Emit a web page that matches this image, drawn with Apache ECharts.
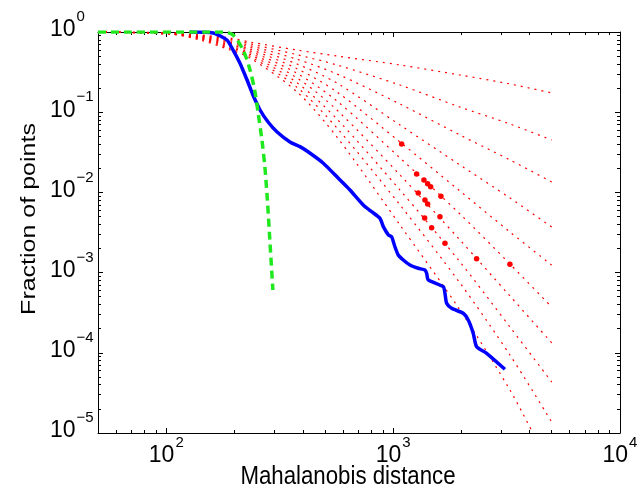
<!DOCTYPE html>
<html><head><meta charset="utf-8">
<script src="https://cdn.jsdelivr.net/npm/echarts@6/dist/echarts.min.js"></script>
<style>html,body{margin:0;padding:0;background:#fff}#c{width:639px;height:494px}</style>
</head><body><div id="c"></div>
<script>
// ---- data ----
const xLabelValues = [100, 1000, 10000];
const yLabelValues = [1e-5, 1e-4, 1e-3, 1e-2, 1e-1, 1];
const xTitle = 'Mahalanobis distance';
const yTitle = 'Fraction of points';

const blueX = [127, 161, 185, 197, 211, 227, 241, 259, 281, 308, 351, 388, 417, 491, 583, 645, 738, 804, 875, 905, 954, 985, 1018, 1053, 1108, 1186, 1290, 1381, 1405, 1428, 1663, 1692, 1721, 1810, 2037, 2143, 2254, 2333, 2583, 3110];
const blueY = [1.0, 0.972, 0.795, 0.596, 0.411, 0.252, 0.164, 0.1065, 0.0755, 0.0566, 0.0425, 0.0372, 0.0328, 0.02326, 0.01428, 0.01071, 0.00697, 0.00575, 0.00475, 0.00374, 0.00294, 0.0028, 0.0021, 0.00166, 0.001437, 0.001244, 0.001132, 0.001077, 0.00098, 0.000809, 0.000667, 0.000552, 0.000414, 0.000359, 0.000311, 0.000256, 0.000175, 0.000119, 0.0000986, 0.0000623];

const greenX = [50, 178, 197, 218, 234, 246, 254, 264, 272, 279, 286, 295];
const greenY = [1, 1, 0.917, 0.596, 0.336, 0.179, 0.0977, 0.045, 0.0207, 0.00804, 0.00255, 0.000607];

const redX = [50, 104, 141, 191, 234, 377, 565, 1072, 1970, 3272, 5000];
const redX10 = [50, 104, 141, 191, 234, 377, 565, 1072, 1970, 3272, 4130];
const red1 = [1, 0.972, 0.918, 0.842, 0.750, 0.596, 0.502, 0.388, 0.291, 0.225, 0.174];
const red2 = [1, 0.972, 0.905, 0.811, 0.713, 0.521, 0.388, 0.218, 0.116, 0.0713, 0.0450];
const red3 = [1, 0.972, 0.892, 0.779, 0.677, 0.457, 0.300, 0.1265, 0.0520, 0.0254, 0.0135];
const red4 = [1, 0.972, 0.879, 0.750, 0.645, 0.399, 0.231, 0.0692, 0.0220, 0.00852, 0.00370];
const red5 = [1, 0.958, 0.866, 0.723, 0.612, 0.349, 0.179, 0.0425, 0.0104, 0.00321, 0.00124];
const red6 = [1, 0.958, 0.854, 0.694, 0.581, 0.305, 0.138, 0.0269, 0.00538, 0.00128, 0.000372];
const red7 = [1, 0.944, 0.842, 0.669, 0.552, 0.267, 0.1065, 0.0165, 0.00255, 0.000511, 0.000133];
const red8 = [1, 0.944, 0.830, 0.645, 0.526, 0.233, 0.0823, 0.0107, 0.00136, 0.000210, 0.0000432];
const red9 = [1, 0.944, 0.818, 0.619, 0.499, 0.204, 0.0635, 0.00697, 0.000742, 0.0000939, 0.0000137];
const red10 = [1, 0.944, 0.795, 0.596, 0.474, 0.179, 0.0491, 0.00392, 0.000342, 0.0000344, 0.00001];

const dotX = [1090, 1269, 1367, 1419, 1463, 1290, 1624, 1381, 1419, 1608, 1377, 1478, 1692, 2333, 3272];
const dotY = [0.0401, 0.01696, 0.01428, 0.01284, 0.01178, 0.00983, 0.00894, 0.00804, 0.00717, 0.00498, 0.00479, 0.00363, 0.00232, 0.00149, 0.00127];

// ---- build ----
const L = Math.log10;
const xMin = L(50), xMax = L(10000), yMin = L(1e-5), yMax = L(1);
const pairs = (xs, ys) => xs.map((x, i) => [L(x), L(ys[i])]);

const xMajor = xLabelValues.map(L);
const yMajor = yLabelValues.map(L);
const xMinor = [];
[10, 100, 1000].forEach(d => { for (let k = 2; k <= 9; k++) { const v = k * d; if (v > 50 && v < 10000) xMinor.push(L(v)); } });
const yMinor = [];
[1e-5, 1e-4, 1e-3, 1e-2, 1e-1].forEach(d => { for (let k = 2; k <= 9; k++) yMinor.push(L(k * d)); });

const FONT = "'Liberation Sans', Arial, Helvetica, sans-serif";
const supLabel = v => {
  const e = Math.round(v);
  return '{b|10}{s|' + (e < 0 ? '\u2212' + (-e) : String(e)) + '}';
};
const rich = {
  b: { fontFamily: FONT, fontSize: 23, lineHeight: 23, padding: [0, 0, 4, 0], verticalAlign: 'middle', color: '#000' },
  s: { fontFamily: FONT, fontSize: 15, lineHeight: 15, padding: [0, 0, 30, 1], verticalAlign: 'middle', color: '#000' }
};
const lineBlack = { color: '#000', width: 1 };

function xAx(pos, vals, len, showLine, label) {
  return {
    type: 'value', min: xMin, max: xMax, position: pos,
    axisLine: { show: showLine, onZero: false, lineStyle: lineBlack },
    axisTick: { show: true, inside: true, length: len, customValues: vals, lineStyle: lineBlack },
    axisLabel: label ? { show: true, customValues: xMajor, formatter: supLabel, rich: rich, margin: 13 } : { show: false },
    splitLine: { show: false }
  };
}
function yAx(pos, vals, len, showLine, label) {
  return {
    type: 'value', min: yMin, max: yMax, position: pos,
    axisLine: { show: showLine, onZero: false, lineStyle: lineBlack },
    axisTick: { show: true, inside: true, length: len, customValues: vals, lineStyle: lineBlack },
    axisLabel: label ? { show: true, customValues: yMajor, formatter: supLabel, rich: rich, margin: 48, align: 'left' } : { show: false },
    splitLine: { show: false }
  };
}

const redSets = [[redX, red1], [redX, red2], [redX, red3], [redX, red4], [redX, red5], [redX, red6], [redX, red7], [redX, red8], [redX, red9], [redX10, red10]];
const series = [];
redSets.forEach(([xs, ys]) => series.push({
  type: 'line', data: pairs(xs, ys), showSymbol: false, smooth: 0.3, silent: true,
  lineStyle: { color: '#ff0000', width: 1.2, type: [2, 5] }, z: 2
}));
series.push({ type: 'line', data: pairs(blueX, blueY), showSymbol: false, smooth: 0.2,
  lineStyle: { color: '#0000ff', width: 3.5 }, z: 3 });
series.push({ type: 'line', data: pairs(greenX, greenY), showSymbol: false, smooth: 0.3,
  lineStyle: { color: '#1fe81f', width: 3.5, type: [8, 5] }, z: 4 });
series.push({ type: 'scatter', data: pairs(dotX, dotY), symbol: 'circle', symbolSize: 5.5,
  itemStyle: { color: '#ff0000', opacity: 1 }, z: 5 });

const chart = echarts.init(document.getElementById('c'), null, { renderer: 'canvas' });
chart.setOption({
  animation: false,
  backgroundColor: '#fff',
  grid: { left: 98, right: 19, top: 32, bottom: 61, containLabel: false, outerBoundsMode: 'none' },
  xAxis: [xAx('bottom', xMajor, 5, true, true), xAx('bottom', xMinor, 3, false, false),
          xAx('top', xMajor, 5, true, false), xAx('top', xMinor, 3, false, false)],
  yAxis: [yAx('left', yMajor, 5, true, true), yAx('left', yMinor, 3, false, false),
          yAx('right', yMajor, 5, true, false), yAx('right', yMinor, 3, false, false)],
  series: series,
  graphic: [
    { type: 'text', x: 348, y: 477, scaleX: 0.89, style: { text: xTitle, fontFamily: FONT, fontSize: 25, fill: '#000', align: 'center', verticalAlign: 'middle' } },
    { type: 'text', x: 29, y: 219, rotation: Math.PI / 2, scaleX: 1.25, style: { text: yTitle, fontFamily: FONT, fontSize: 20, fill: '#000', align: 'center', verticalAlign: 'middle' } }
  ]
});
</script></body></html>
